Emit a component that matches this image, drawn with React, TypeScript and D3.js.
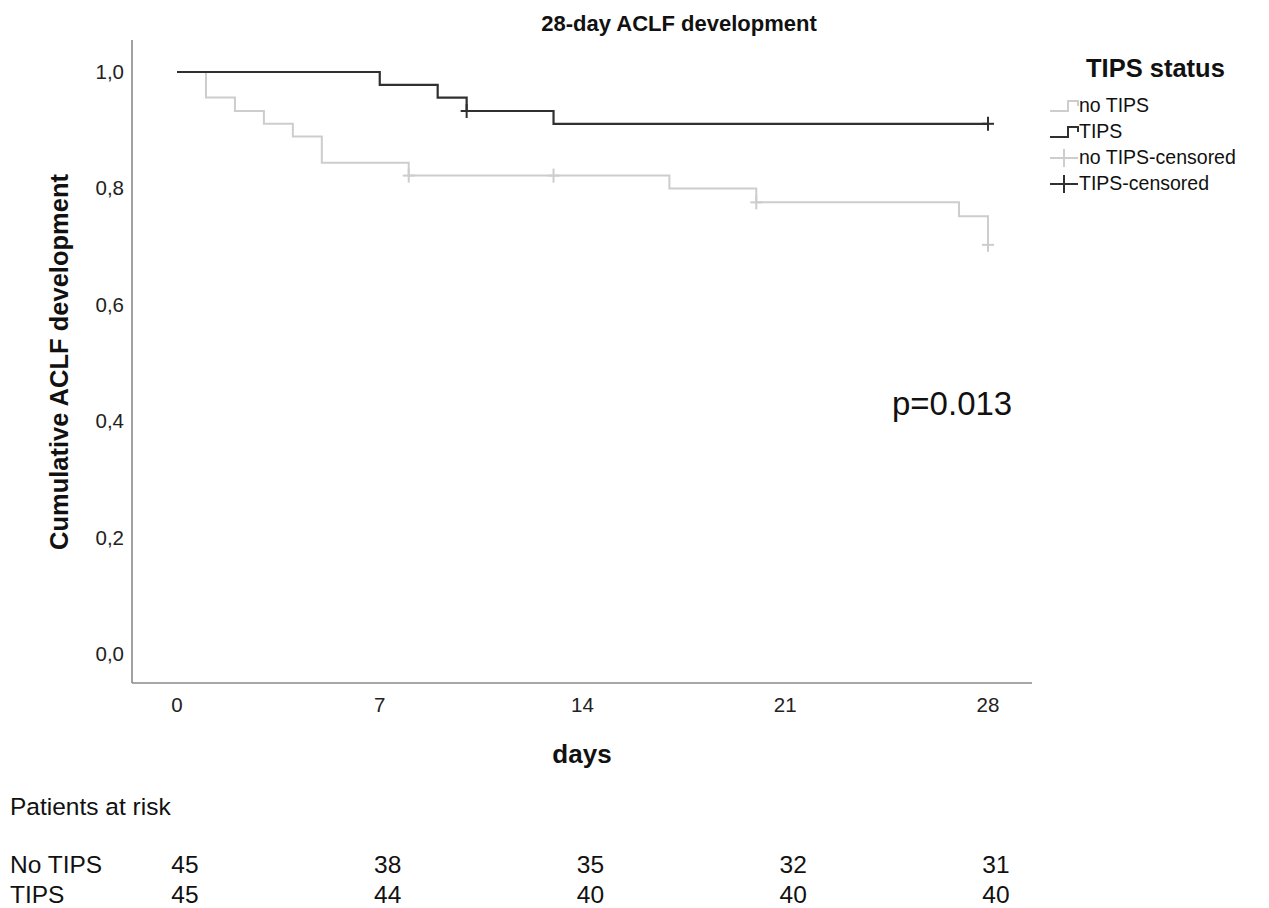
import * as d3 from 'd3';
import React from 'react';

const WIDTH = 1269;
const HEIGHT = 908;
const FONT = "'Liberation Sans', Arial, Helvetica, sans-serif";

// Kaplan-Meier steps
const noTipsTimes = [0, 1, 2, 3, 4, 5, 8, 17, 20, 27, 28];
const noTipsSurv = [1, 0.956, 0.933, 0.911, 0.889, 0.844, 0.822, 0.8, 0.776, 0.752, 0.703];
const noTipsCensorTimes = [8, 13, 20, 28];
const noTipsCensorSurv = [0.822, 0.822, 0.776, 0.703];

const tipsTimes = [0, 7, 9, 10, 13, 28];
const tipsSurv = [1, 0.978, 0.956, 0.933, 0.911, 0.911];
const tipsCensorTimes = [10, 28];
const tipsCensorSurv = [0.933, 0.911];

const xTicks = [0, 7, 14, 21, 28];
const yTicks = [0, 0.2, 0.4, 0.6, 0.8, 1.0];

const riskGroups = ["No TIPS", "TIPS"];
const riskNoTips = [45, 38, 35, 32, 31];
const riskTips = [45, 44, 40, 40, 40];

const legendLabels = ["no TIPS", "TIPS", "no TIPS-censored", "TIPS-censored"];

const LIGHT = "#cdcdcd";
const DARK = "#303030";
const AXIS = "#8a8a8a";

const xScale = d3.scaleLinear().domain([0, 28]).range([177, 988]);
const yScale = d3.scaleLinear().domain([0, 1]).range([654, 72]);

const stepLine = d3.line<[number, number]>()
  .x(d => xScale(d[0]))
  .y(d => yScale(d[1]))
  .curve(d3.curveStepAfter);

const zip = (a: number[], b: number[]): [number, number][] => a.map((v, i) => [v, b[i]]);

const Censor: React.FC<{ x: number; y: number; color: string }> = ({ x, y, color }) => (
  <g stroke={color} strokeWidth={2}>
    <line x1={x - 6} x2={x + 6} y1={y} y2={y} />
    <line x1={x} x2={x} y1={y - 7} y2={y + 7} />
  </g>
);

const App: React.FC = () => {
  const plotLeft = 132;
  const plotRight = 1032;
  const plotTop = 40;
  const plotBottom = 683;

  const legendX = 1050;
  const legendRows = [112, 138, 164, 190];

  return (
    <svg
      width={WIDTH}
      height={HEIGHT}
      style={{ position: 'absolute', left: 0, top: 0, background: '#fff' }}
      fontFamily={FONT}
    >
      <rect width={WIDTH} height={HEIGHT} fill="#fff" />

      {/* title */}
      <text x={679} y={31} textAnchor="middle" fontSize={22} fontWeight="bold" fill="#111">
        28-day ACLF development
      </text>

      {/* axes */}
      <line x1={plotLeft} x2={plotLeft} y1={plotTop} y2={plotBottom} stroke={AXIS} strokeWidth={1.6} />
      <line x1={plotLeft} x2={plotRight} y1={plotBottom} y2={plotBottom} stroke={AXIS} strokeWidth={1.6} />

      {yTicks.map(t => (
        <text key={t} x={124} y={yScale(t) + 7} textAnchor="end" fontSize={20.5} fill="#222">
          {t.toFixed(1).replace('.', ',')}
        </text>
      ))}
      {xTicks.map(t => (
        <text key={t} x={xScale(t)} y={712} textAnchor="middle" fontSize={20.5} fill="#222">
          {t}
        </text>
      ))}

      <text
        transform="translate(68,362) rotate(-90)"
        textAnchor="middle"
        fontSize={25.5}
        fontWeight="bold"
        fill="#111"
      >
        Cumulative ACLF development
      </text>
      <text x={582} y={763} textAnchor="middle" fontSize={26} fontWeight="bold" fill="#111">
        days
      </text>

      {/* curves */}
      <path d={stepLine(zip(noTipsTimes, noTipsSurv)) ?? ''} fill="none" stroke={LIGHT} strokeWidth={2} />
      <path d={stepLine(zip(tipsTimes, tipsSurv)) ?? ''} fill="none" stroke={DARK} strokeWidth={2.2} />
      {noTipsCensorTimes.map((t, i) => (
        <Censor key={`n${i}`} x={xScale(t)} y={yScale(noTipsCensorSurv[i])} color={LIGHT} />
      ))}
      {tipsCensorTimes.map((t, i) => (
        <Censor key={`t${i}`} x={xScale(t)} y={yScale(tipsCensorSurv[i])} color={DARK} />
      ))}

      <text x={892} y={415} fontSize={33} fill="#111">p=0.013</text>

      {/* legend */}
      <text x={1086} y={77} fontSize={25.5} fontWeight="bold" fill="#111">TIPS status</text>
      {legendLabels.map((label, i) => {
        const y = legendRows[i];
        const color = i % 2 === 0 ? LIGHT : DARK;
        const mid = y - 6;
        return (
          <g key={label}>
            {i < 2 ? (
              <path
                d={`M${legendX},${mid + 5}H${legendX + 18}V${mid - 5}H${legendX + 28}V${mid}`}
                fill="none"
                stroke={color}
                strokeWidth={2}
              />
            ) : (
              <g stroke={color} strokeWidth={2}>
                <line x1={legendX} x2={legendX + 28} y1={mid} y2={mid} />
                <line x1={legendX + 14} x2={legendX + 14} y1={mid - 9} y2={mid + 9} />
              </g>
            )}
            <text x={legendX + 29} y={y} fontSize={19.5} fill="#111">{label}</text>
          </g>
        );
      })}

      {/* patients at risk */}
      <text x={10} y={815} fontSize={24.5} fill="#111">Patients at risk</text>
      {riskGroups.map((g, gi) => {
        const y = gi === 0 ? 873 : 903;
        const values = gi === 0 ? riskNoTips : riskTips;
        return (
          <g key={g}>
            <text x={10} y={y} fontSize={24.5} fill="#111">{g}</text>
            {values.map((v, i) => (
              <text key={i} x={xScale(xTicks[i]) + 8} y={y} textAnchor="middle" fontSize={24.5} fill="#111">
                {v}
              </text>
            ))}
          </g>
        );
      })}
    </svg>
  );
};

export default App;
